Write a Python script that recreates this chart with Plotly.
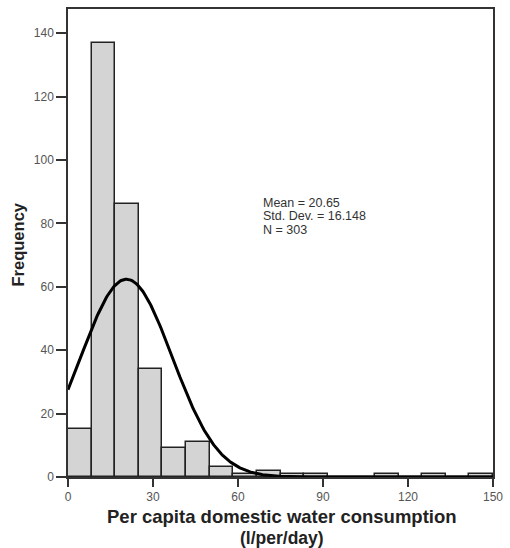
import numpy as np
import plotly.graph_objects as go

# Histogram data (bin width 150/18)
bin_edges = [i * 150 / 18 for i in range(19)]
counts = [15, 137, 86, 34, 9, 11, 3, 1, 2, 1, 1, 0, 0, 1, 0, 1, 0, 1]
mean_val = 20.65
std_val = 16.148
n_val = 303
x_ticks = [0, 30, 60, 90, 120, 150]
y_ticks = [0, 20, 40, 60, 80, 100, 120, 140]
stats_lines = [f"Mean = {mean_val}", f"Std. Dev. = {std_val}", f"N = {n_val}"]

centers = [(bin_edges[i] + bin_edges[i + 1]) / 2 for i in range(len(counts))]
bw = bin_edges[1] - bin_edges[0]

# fitted normal curve (scaled to counts)
xc = np.linspace(0, 150, 400)
yc = n_val * bw / (std_val * np.sqrt(2 * np.pi)) * np.exp(-0.5 * ((xc - mean_val) / std_val) ** 2)

fig = go.Figure()
fig.add_trace(go.Bar(
    x=centers, y=counts, width=bw,
    marker=dict(color="#d4d4d4", line=dict(color="#222222", width=1.5)),
    showlegend=False, hoverinfo="skip"))
fig.add_trace(go.Scatter(
    x=xc, y=yc, mode="lines",
    line=dict(color="black", width=3),
    showlegend=False, hoverinfo="skip"))

font_fam = "Liberation Sans, Arial, sans-serif"
PW, PH, L, T = 429, 470, 68, 7

annots = []
for i, s in enumerate(stats_lines):
    annots.append(dict(text=s, xref="paper", yref="paper",
                       x=(263 - L) / PW, y=1 - (201.7 + 13.6 * i - T) / PH,
                       xanchor="left", yanchor="middle", align="left", showarrow=False,
                       font=dict(size=12.5, color="#333333", family=font_fam)))
annots += [
    dict(text="<b>Per capita domestic water consumption</b>",
         xref="paper", yref="paper", x=(284 - L) / PW, y=1 - (517 - T) / PH,
         xanchor="center", yanchor="middle", showarrow=False,
         font=dict(size=18.5, color="#222222", family=font_fam)),
    dict(text="<b>(l/per/day)</b>",
         xref="paper", yref="paper", x=(284 - L) / PW, y=1 - (538.5 - T) / PH,
         xanchor="center", yanchor="middle", showarrow=False,
         font=dict(size=17.5, color="#222222", family=font_fam)),
    dict(text="<b>Frequency</b>", textangle=-90,
         xref="paper", yref="paper", x=-(L - 18) / PW, y=1 - (243 - T) / PH,
         xanchor="center", yanchor="middle", showarrow=False,
         font=dict(size=16.5, color="#222222", family=font_fam)),
]

fig.update_layout(
    width=510, height=548,
    margin=dict(l=68, r=13, t=7, b=71),
    paper_bgcolor="white", plot_bgcolor="white",
    bargap=0,
    font=dict(family=font_fam, color="#444444", size=12),
    xaxis=dict(range=[0, 150], tickvals=x_ticks, ticks="outside", ticklen=8,
               tickwidth=1.5, tickcolor="#333333",
               showline=True, linecolor="#333333", linewidth=1.5, mirror=True,
               showgrid=False, zeroline=False, tickfont=dict(size=12, color="#555555")),
    yaxis=dict(range=[0, 147.6], tickvals=y_ticks, ticks="outside", ticklen=10,
               tickwidth=1.5, tickcolor="#333333",
               showline=True, linecolor="#333333", linewidth=1.5, mirror=True,
               showgrid=False, zeroline=False, tickfont=dict(size=12, color="#555555")),
    annotations=annots,
)

fig.write_html("out.html")
